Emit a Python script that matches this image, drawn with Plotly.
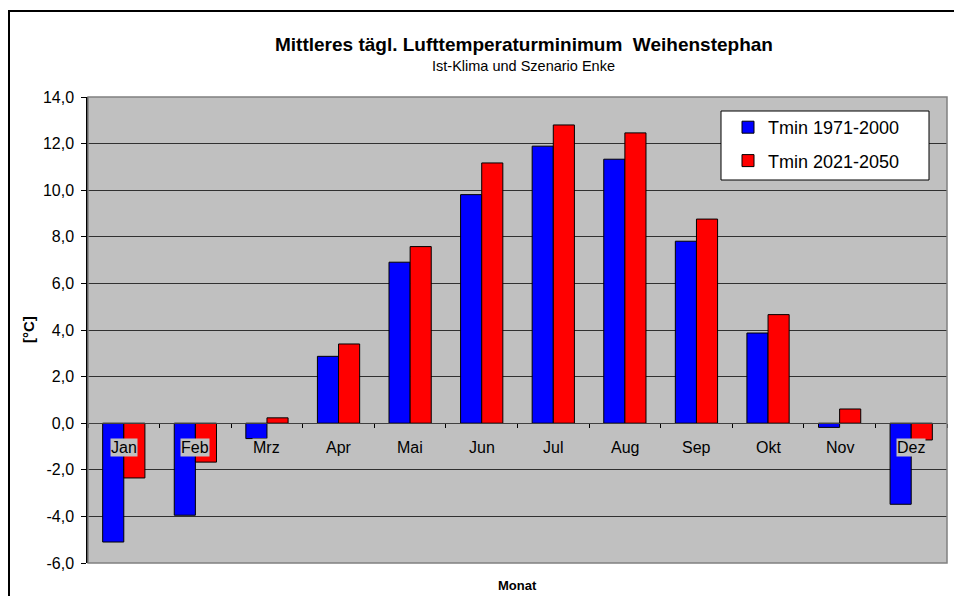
import plotly.graph_objects as go

months = ["Jan", "Feb", "Mrz", "Apr", "Mai", "Jun", "Jul", "Aug", "Sep", "Okt", "Nov", "Dez"]
tmin_1971_2000 = [-5.1, -3.95, -0.66, 2.87, 6.91, 9.81, 11.89, 11.33, 7.81, 3.87, -0.18, -3.48]
tmin_2021_2050 = [-2.35, -1.67, 0.23, 3.40, 7.58, 11.17, 12.80, 12.46, 8.76, 4.66, 0.61, -0.72]
y_ticks = [-6, -4, -2, 0, 2, 4, 6, 8, 10, 12, 14]
y_tick_labels = [f"{v:.1f}".replace(".", ",") for v in y_ticks]

FONT = "Liberation Sans, Arial, sans-serif"
xs = list(range(len(months)))

# figure is drawn with an 8px page offset (body margin)
W, H = 954, 588
L, T = 80, 89
R, B = W - 939, H - 555
pw, ph = W - L - R, H - T - B


def px(xf):
    return (xf - L) / pw


def py(yf):
    return 1 - (yf - T) / ph


fig = go.Figure()
fig.add_trace(go.Bar(x=xs, y=tmin_1971_2000, name="Tmin 1971-2000",
                     marker=dict(color="#0000FF", line=dict(color="#000000", width=1)),
                     legendgroup="a"))
fig.add_trace(go.Bar(x=xs, y=tmin_2021_2050, name="Tmin 2021-2050",
                     marker=dict(color="#FF0000", line=dict(color="#000000", width=1)),
                     legendgroup="b"))

for i, m in enumerate(months):
    fig.add_annotation(x=i, y=0, xref="x", yref="y", text=m, showarrow=False,
                       yshift=-24, bgcolor="#C0C0C0", borderpad=0,
                       font=dict(family=FONT, size=16, color="#000000"))

# plot area border (gray)
fig.add_shape(type="rect", xref="paper", yref="paper", x0=0, y0=0, x1=1, y1=1,
              line=dict(color="#808080", width=1.5), layer="above")
# outer chart border
fig.add_shape(type="rect", xref="paper", yref="paper",
              x0=px(1), y0=-0.2, x1=1.2, y1=py(3),
              line=dict(color="#000000", width=2))
# legend box
fig.add_shape(type="rect", xref="paper", yref="paper",
              x0=px(713), y0=py(172), x1=px(921), y1=py(103),
              fillcolor="#FFFFFF", line=dict(color="#000000", width=1), layer="above")

# titles
fig.add_annotation(text="<b>Mittleres tägl. Lufttemperaturminimum  Weihenstephan</b>",
                   xref="paper", yref="paper", x=px(515.5), y=py(37), showarrow=False,
                   xanchor="center", yanchor="middle",
                   font=dict(family=FONT, size=19, color="#000000"))
fig.add_annotation(text="Ist-Klima und Szenario Enke",
                   xref="paper", yref="paper", x=px(515), y=py(58), showarrow=False,
                   xanchor="center", yanchor="middle",
                   font=dict(family=FONT, size=14.5, color="#000000"))
fig.add_annotation(text="<b>[°C]</b>", xref="paper", yref="paper",
                   x=px(20), y=py(322), showarrow=False, textangle=-90,
                   xanchor="center", yanchor="middle",
                   font=dict(family=FONT, size=15, color="#000000"))
fig.add_annotation(text="<b>Monat</b>", xref="paper", yref="paper",
                   x=px(509.5), y=py(577), showarrow=False,
                   xanchor="center", yanchor="middle",
                   font=dict(family=FONT, size=13, color="#000000"))

fig.update_layout(
    width=W, height=H,
    margin=dict(l=L, r=R, t=T, b=B, autoexpand=False),
    paper_bgcolor="#FFFFFF",
    plot_bgcolor="#C0C0C0",
    barmode="group",
    bargap=0.41,
    bargroupgap=0,
    font=dict(family=FONT, color="#000000"),
    legend=dict(
        x=px(720), y=py(101), xanchor="left", yanchor="top",
        bgcolor="rgba(0,0,0,0)", borderwidth=0,
        font=dict(family=FONT, size=18, color="#000000"),
        traceorder="grouped", tracegroupgap=7,
        itemwidth=30,
    ),
    xaxis=dict(
        range=[-0.5, 11.5],
        tickmode="array", tickvals=[i + 0.5 for i in range(-1, 12)],
        ticks="outside", ticklen=4, tickcolor="#000000",
        showticklabels=False, showgrid=False, zeroline=False,
        showline=True, linecolor="#404040", linewidth=1,
        anchor="free", position=6 / 20, automargin=False,
    ),
    yaxis=dict(
        range=[-6, 14],
        tickmode="array", tickvals=y_ticks, ticktext=y_tick_labels,
        ticks="outside", ticklen=5, tickcolor="#000000",
        ticklabelstandoff=4,
        tickfont=dict(family=FONT, size=16, color="#000000"),
        showgrid=True, gridcolor="#303030", gridwidth=1,
        zeroline=False, automargin=False,
        showline=True, linecolor="#000000", linewidth=1.5,
    ),
)

fig.write_html("out.html")
